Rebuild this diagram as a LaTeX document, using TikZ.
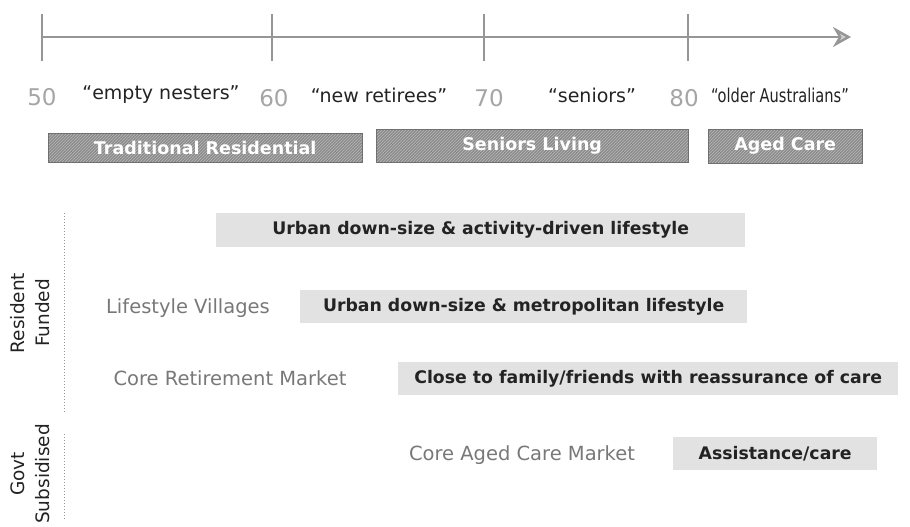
\documentclass[tikz,border=0pt]{standalone}
\usepackage{fontspec}
\setmainfont{DejaVu Sans}
\usetikzlibrary{arrows.meta,patterns}
\definecolor{axisgray}{RGB}{150,150,150}
\definecolor{lblgray}{RGB}{120,120,120}
\definecolor{numgray}{RGB}{165,165,165}
\definecolor{darktxt}{RGB}{35,35,35}
\definecolor{hatchgray}{RGB}{140,140,140}
\definecolor{hatchline}{RGB}{185,185,185}
\definecolor{lightbox}{RGB}{226,226,226}
\tikzset{
  axisline/.style={draw=axisgray, line width=2.4pt},
  tickline/.style={draw=axisgray, line width=1.6pt},
  agenum/.style={text=numgray, font=\fontsize{23}{25}\selectfont, inner sep=0pt},
  agename/.style={text=darktxt, font=\fontsize{19}{21}\selectfont, inner sep=0pt},
  phasebox/.style={preaction={fill=hatchgray}, pattern=north east lines, pattern color=hatchline,
    draw=hatchgray!80!black, line width=0.4pt, text=white,
    font=\bfseries\fontsize{17.5}{19}\selectfont, inner sep=0pt, anchor=north west},
  segbox/.style={fill=lightbox, draw=none, text=darktxt,
    font=\bfseries\fontsize{17.3}{19}\selectfont, inner sep=0pt, anchor=north west},
  seglabel/.style={text=lblgray, font=\fontsize{19.5}{21}\selectfont, inner sep=0pt},
  sidelabel/.style={text=darktxt, font=\fontsize{18.5}{25}\selectfont, rotate=90, align=center, inner sep=0pt},
  sepline/.style={draw=axisgray, line width=1pt, dotted},
}
\begin{document}
\begin{tikzpicture}[x=1pt,y=-1pt]
\useasboundingbox (0,0) rectangle (910,527);
% timeline
\coordinate (tstart) at (42,37);
\coordinate (tend) at (851,37);
\draw[axisline, -{Stealth[length=18pt,width=20pt,open,fill=axisgray!45]}] (tstart) -- (tend);
\foreach \x/\n in {42/a,272/b,484/c,688/d}{
  \coordinate (\n top) at (\x,14);
  \coordinate (\n bot) at (\x,61);
  \draw[tickline] (\n top) -- (\n bot);
}
% age labels
\node[agenum] (n50) at (42,97) {50};
\node[agename] (l1) at (161,95) {“empty nesters”};
\node[agenum] (n60) at (274,98) {60};
\node[agename] (l2) at (379,95) {“new retirees”};
\node[agenum] (n70) at (489,98) {70};
\node[agename] (l3) at (592,95) {“seniors”};
\node[agenum] (n80) at (684,98) {80};
\node[agename] (l4) at (780,95) {\scalebox{0.77}[1]{“older Australians”}};
% phase boxes
\node[phasebox, minimum width=314pt, minimum height=29pt] (p1) at (48,133) {Traditional Residential};
\node[phasebox, minimum width=312pt, minimum height=33pt] (p2) at (376,129) {Seniors Living};
\node[phasebox, minimum width=154pt, minimum height=34pt] (p3) at (708,129) {Aged Care};
% segment rows
\node[segbox, minimum width=529pt, minimum height=34pt] (s1) at (216,213) {Urban down-size \& activity-driven lifestyle};
\node[seglabel] (v1) at (188,308) {Lifestyle Villages};
\node[segbox, minimum width=447pt, minimum height=33pt] (s2) at (300,290) {Urban down-size \& metropolitan lifestyle};
\node[seglabel] (v2) at (230,378) {Core Retirement Market};
\node[segbox, minimum width=500pt, minimum height=33pt] (s3) at (398,362) {Close to family/friends with reassurance of care};
\node[seglabel] (v3) at (522,455) {Core Aged Care Market};
\node[segbox, minimum width=204pt, minimum height=33pt] (s4) at (673,437) {Assistance/care};
% side labels
\node[sidelabel] (rf) at (30,313) {Resident\\Funded};
\node[sidelabel] (gs) at (30,474) {Govt\\Subsidised};
\coordinate (d1a) at (64,213);
\coordinate (d1b) at (64,412);
\coordinate (d2a) at (64,434);
\coordinate (d2b) at (64,520);
\draw[sepline] (d1a) -- (d1b);
\draw[sepline] (d2a) -- (d2b);
\end{tikzpicture}
\end{document}
